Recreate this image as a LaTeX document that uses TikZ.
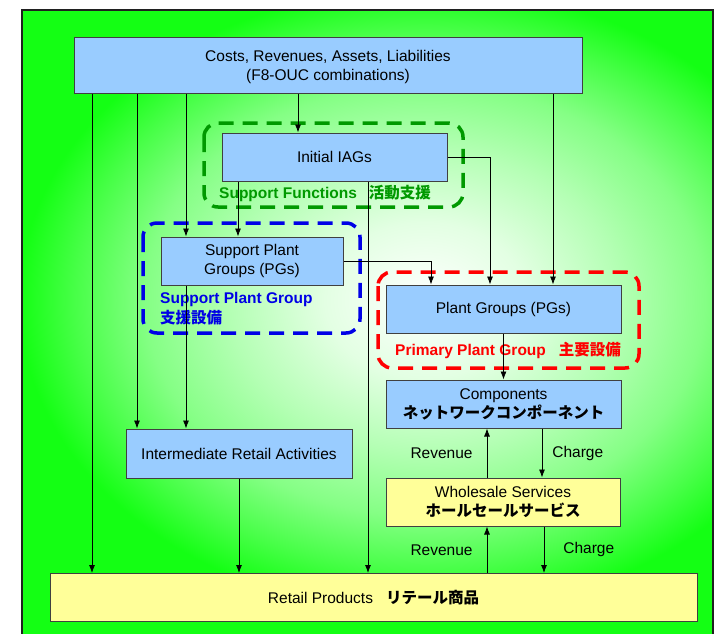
\documentclass[tikz,border=0pt]{standalone}
\usepackage{fontspec}
\setmainfont{Liberation Sans}
\newfontfamily\jpfont{Noto Sans CJK JP}
\usepackage{tikz}
\usetikzlibrary{positioning,calc,arrows.meta}

\definecolor{boxblue}{RGB}{153,204,255}
\definecolor{boxyellow}{RGB}{255,255,153}
\definecolor{edgegray}{RGB}{64,64,64}
\definecolor{sfgreen}{RGB}{0,153,0}
\definecolor{spblue}{RGB}{0,0,230}
\definecolor{ppred}{RGB}{255,0,0}
\definecolor{bggreen}{RGB}{20,255,20}

\pgfdeclareradialshading{glow}{\pgfpoint{0bp}{0bp}}{color(0bp)=(white); color(3.6bp)=(white!88!bggreen); color(7bp)=(white!68!bggreen); color(10bp)=(white!48!bggreen); color(12.5bp)=(white!22!bggreen); color(14.5bp)=(bggreen); color(50bp)=(bggreen)}

\tikzset{
  blk/.style={draw=edgegray, line width=1pt, fill=boxblue, align=center, inner sep=0pt, font=\fontsize{15.5}{19}\selectfont},
  ylw/.style={blk, fill=boxyellow},
  grp/.style={line width=3.5pt, dash pattern=on 15pt off 9pt, rounded corners=14pt},
  lbl/.style={font=\fontsize{15.5}{20}\selectfont\bfseries, inner sep=0pt, anchor=west, align=left},
  flow/.style={font=\fontsize{15.5}{19}\selectfont, inner sep=0pt},
  arr/.style={-{Latex[length=8pt,width=6pt]}, line width=0.8pt}
}

\begin{document}
\begin{tikzpicture}[x=1pt, y=-1pt]
    \useasboundingbox (0,0) rectangle (718,633);
    \clip (0,0) rectangle (718,633);

    % green glowing background
    \begin{scope}
        \clip (22,10) rectangle (713,645);
        \fill[bggreen] (22,10) rectangle (713,645);
        \shade[shading=glow] (425,300) ellipse [x radius=700pt, y radius=540pt];
    \end{scope}
    \draw[line width=2pt, edgegray!50!black] (22,10) rectangle (713,645);

    % dashed groups
    \draw[grp, sfgreen] (204,123) rectangle (463,207);
    \draw[grp, spblue] (143,223) rectangle (360,333);
    \draw[grp, ppred] (378,272) rectangle (639,368);

    \node[lbl, text=sfgreen] (sflbl) at (219,193) {Support Functions\hspace{12pt}{\jpfont\bfseries 活動支援}};
    \node[lbl, text=spblue] (spglbl) at (160,309) {Support Plant Group\\{\jpfont\bfseries 支援設備}};
    \node[lbl, text=ppred] (ppglbl) at (395,350) {Primary Plant Group\hspace{13pt}{\jpfont\bfseries 主要設備}};

    % boxes
    \node[blk, minimum width=508pt, minimum height=56pt] (costs) at (328,65) {\rule{0pt}{15pt}Costs, Revenues, Assets, Liabilities\\(F8-OUC combinations)};
    \node[blk, minimum width=225pt, minimum height=48pt] (iags) at (334.5,157) {Initial IAGs};
    \node[blk, minimum width=182pt, minimum height=48pt] (spg) at (252,261) {Support Plant\\Groups (PGs)};
    \node[blk, minimum width=235pt, minimum height=48pt] (pg) at (503.5,309) {Plant Groups (PGs)};
    \node[blk, minimum width=235pt, minimum height=48pt] (comp) at (503.5,404) {Components\\{\jpfont\bfseries ネットワークコンポーネント}};
    \node[ylw, minimum width=234pt, minimum height=48pt] (ws) at (503,502) {Wholesale Services\\{\jpfont\bfseries ホールセールサービス}};
    \node[blk, minimum width=226pt, minimum height=49pt] (ira) at (239,453.5) {Intermediate Retail Activities};
    \node[ylw, minimum width=647pt, minimum height=48pt] (retail) at (373.5,597.5) {Retail Products\hspace{13pt}{\jpfont\bfseries リテール商品}};

    % lanes for the vertical connectors
    \path (92,0) coordinate (toRetail) (137,0) coordinate (toIRA) (186,0) coordinate (toSPG)
          (238,0) coordinate (iagsSPG) (298,0) coordinate (toIAG) (368,0) coordinate (iagsRetail)
          (431,0) coordinate (spgPG) (490,0) coordinate (iagsPG) (553,0) coordinate (toPG)
          (487,0) coordinate (revLane) (542,0) coordinate (chgLane) (544,0) coordinate (chgLane2);

    \draw[arr] (costs.south -| toRetail) -- (retail.north -| toRetail);
    \draw[arr] (costs.south -| toIRA) -- (ira.north -| toIRA);
    \draw[arr] (costs.south -| toSPG) -- (spg.north -| toSPG);
    \draw[arr] (spg.south -| toSPG) -- (ira.north -| toSPG);
    \draw[arr] (costs.south -| toIAG) -- (iags.north -| toIAG);
    \draw[arr] (costs.south -| toPG) -- (pg.north -| toPG);
    \draw[arr] (iags.south -| iagsSPG) -- (spg.north -| iagsSPG);
    \draw[arr] (iags.south -| iagsRetail) -- (retail.north -| iagsRetail);
    \draw[arr] (iags.east) -| (pg.north -| iagsPG);
    \draw[arr] (spg.east) -| (pg.north -| spgPG);
    \draw[arr] (pg.south) -- (comp.north);
    \draw[arr] (ira.south) -- (ira.south |- retail.north);

    % revenue and charge flows
    \draw[arr] (ws.north -| revLane) -- node[flow, left=14pt] (rev1) {Revenue} (comp.south -| revLane);
    \draw[arr] (comp.south -| chgLane) -- node[flow, right=10pt] (chg1) {Charge} (ws.north -| chgLane);
    \draw[arr] (retail.north -| revLane) -- node[flow, left=14pt] (rev2) {Revenue} (ws.south -| revLane);
    \draw[arr] (ws.south -| chgLane2) -- node[flow, right=19pt] (chg2) {Charge} (retail.north -| chgLane2);
\end{tikzpicture}
\end{document}
